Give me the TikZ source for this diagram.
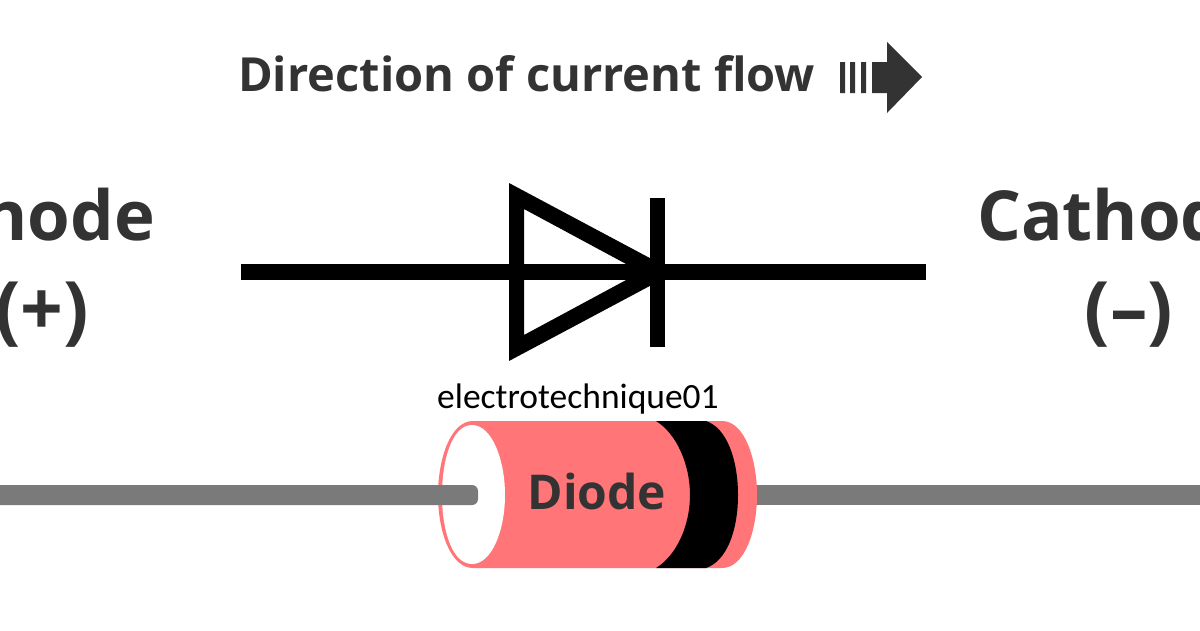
\documentclass[tikz,border=0pt]{standalone}
\usepackage{fontspec}
\setmainfont{Open Sans}
\newfontfamily\markfont{Carlito}
\definecolor{inkgray}{HTML}{333333}
\definecolor{leadgray}{HTML}{7A7A7A}
\definecolor{bodypink}{HTML}{FF7578}
\tikzset{
  x=1pt,y=-1pt,
  title/.style={inner sep=0pt,text=inkgray,font=\bfseries\fontsize{47}{47}\selectfont},
  bigl/.style={inner sep=0pt,text=inkgray,font=\bfseries\fontsize{69}{69}\selectfont},
  signl/.style={inner sep=0pt,text=inkgray,font=\bfseries\fontsize{75}{75}\selectfont},
  symline/.style={line width=16pt,black},
  lead/.style={line width=20pt,leadgray},
}
\begin{document}
\begin{tikzpicture}
\useasboundingbox (0,0) rectangle (1200,630);
\clip (0,0) rectangle (1200,630);
\fill[white] (0,0) rectangle (1200,630);
% title and arrow
\node[title,anchor=base west] (titletext) at (238,91) {Direction of current flow};
\fill[inkgray] (840,62) rectangle (845,93) (850,62) rectangle (855,93) (861,62) rectangle (866,93);
\fill[inkgray] (872,62) -- (887,62) -- (887,42) -- (922,77) -- (887,113) -- (887,93) -- (872,93) -- cycle;
% side labels
\node[bigl,anchor=base east] (anode) at (155,240) {Anode};
\node[signl,anchor=base] (plus) at (42,335) {(+)};
\node[bigl,anchor=base west] (cathode) at (977,240) {Cathode};
\node[signl,anchor=base] (minus) at (1129,335) {(–)};
% symbol
\coordinate (wa) at (241,272);
\coordinate (wk) at (926,272);
\draw[symline] (wa) -- (wk);
\begin{scope}
\clip (500,170) rectangle (660,370);
\fill[black,even odd rule] (509,183) -- (676,272) -- (509,361) -- cycle (524,209) -- (524,335) -- (641,272) -- cycle;
\end{scope}
\draw[line width=15.5pt,black] (657.5,198) -- (657.5,347);
% watermark
\node[inner sep=0pt,anchor=base west,text=black,font=\markfont\fontsize{35.5}{35.5}\selectfont] (mark) at (437,408) {electrotechnique01};
% diode leads
\coordinate (l0) at (0,495);
\coordinate (l1) at (478,495);
\coordinate (r0) at (750,495);
\coordinate (r1) at (1200,495);
\draw[lead] (r0) -- (r1);
% body
\fill[bodypink] (473,421) -- (722,421) .. controls (745,421) and (757,460) .. (757,495) .. controls (757,530) and (745,568) .. (722,568) -- (473,568) .. controls (450,568) and (438,530) .. (438,495) .. controls (438,460) and (450,421) .. (473,421) -- cycle;
% band
\fill[black] (656,421) -- (706,421) .. controls (727,428) and (738,460) .. (738,495) .. controls (738,530) and (727,561) .. (706,568) -- (656,568) .. controls (677,555) and (690,525) .. (690,495) .. controls (690,465) and (677,434) .. (656,421) -- cycle;
% end face
\fill[white] (472,425) .. controls (492,425) and (505,460) .. (505,495) .. controls (505,530) and (492,564) .. (472,564) .. controls (452,564) and (442,530) .. (442,495) .. controls (442,460) and (452,425) .. (472,425) -- cycle;
\fill[leadgray,rounded corners=6pt] (-20,485) rectangle (478,505);
\node[inner sep=0pt,anchor=base,text=inkgray,font=\bfseries\fontsize{48}{48}\selectfont] (dlabel) at (597,509) {Diode};
\end{tikzpicture}
\end{document}
